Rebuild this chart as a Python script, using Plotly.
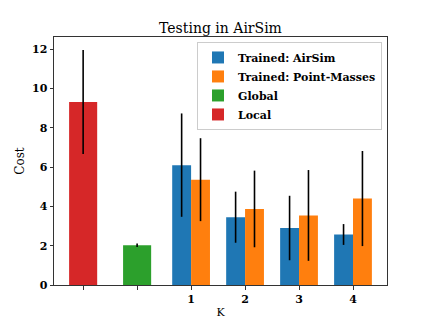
import plotly.graph_objects as go

# values
k_values = [1, 2, 3, 4]
k_pos = [2, 3, 4, 5]
airsim_mean = [6.10, 3.45, 2.90, 2.57]
airsim_err = [2.63, 1.30, 1.64, 0.53]
pm_mean = [5.36, 3.87, 3.54, 4.40]
pm_err = [2.11, 1.95, 2.31, 2.42]
global_mean = [2.02]
global_err = [0.09]
local_mean = [9.31]
local_err = [2.65]

tick_vals = [0, 1, 2, 3, 4, 5]
tick_text = ["", "", "1", "2", "3", "4"]

blue, orange, green, red = "#1f77b4", "#ff7f0e", "#2ca02c", "#d62728"
err_style = dict(type="data", color="black", thickness=1.6, width=0)

fig = go.Figure()
fig.add_trace(go.Bar(x=k_pos, y=airsim_mean, name="Trained: AirSim", marker_color=blue,
                     offset=-0.35, width=0.35, error_y=dict(array=airsim_err, **err_style)))
fig.add_trace(go.Bar(x=k_pos, y=pm_mean, name="Trained: Point-Masses", marker_color=orange,
                     offset=0, width=0.35, error_y=dict(array=pm_err, **err_style)))
fig.add_trace(go.Bar(x=[1], y=global_mean, name="Global", marker_color=green,
                     width=0.52, error_y=dict(array=global_err, **err_style)))
fig.add_trace(go.Bar(x=[0], y=local_mean, name="Local", marker_color=red,
                     width=0.52, error_y=dict(array=local_err, **err_style)))

fig.update_traces(marker_line_width=0)

# the page body adds an 8px margin, so the figure is 8px smaller and shifted
fig.update_layout(
    width=421, height=313,
    margin=dict(l=46, r=42, t=29, b=36, autoexpand=False),
    paper_bgcolor="white", plot_bgcolor="white",
    barmode="overlay",
    font=dict(family="DejaVu Serif", size=11, color="black"),
    title=dict(text="Testing in AirSim", x=212.5 / 421, xanchor="center",
               y=1 - 20 / 313, yanchor="middle", font=dict(size=14)),
    legend=dict(x=0.985, y=0.98, xanchor="right", yanchor="top",
                bordercolor="#cccccc", borderwidth=1, bgcolor="rgba(255,255,255,0.8)",
                font=dict(size=11, weight="bold"), tracegroupgap=0, itemwidth=30),
    showlegend=True,
)
fig.update_xaxes(range=[-0.54, 5.63], tickvals=tick_vals, ticktext=tick_text,
                 showgrid=False, zeroline=False, showline=True, linecolor="#333", linewidth=1,
                 mirror=True, ticks="outside", ticklen=3.5, tickcolor="#333",
                 tickfont=dict(weight="bold", size=11), automargin=False,
                 title=dict(text="K", standoff=3, font=dict(size=11)))
fig.update_yaxes(range=[0, 12.62], tickvals=[0, 2, 4, 6, 8, 10, 12],
                 showgrid=False, zeroline=False, showline=True, linecolor="#333", linewidth=1,
                 mirror=True, ticks="outside", ticklen=3.5, tickcolor="#333",
                 tickfont=dict(weight="bold", size=11), automargin=False,
                 title=dict(text="Cost", standoff=4, font=dict(size=12)))

fig.write_html("out.html")
